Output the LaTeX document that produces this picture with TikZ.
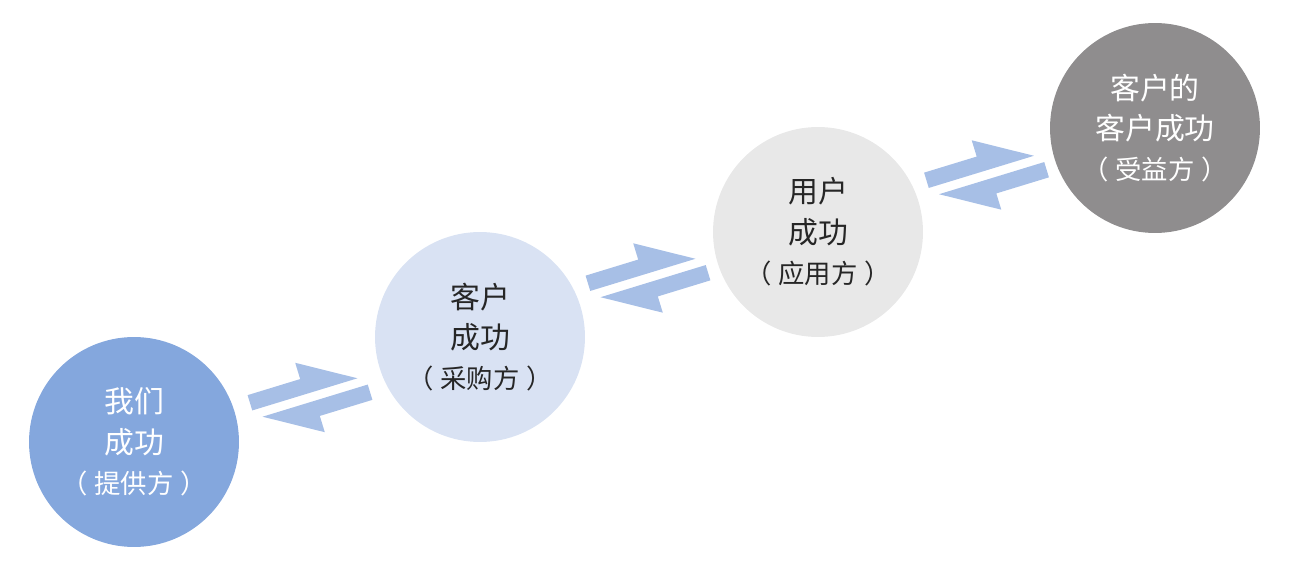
\documentclass[tikz,border=0pt]{standalone}
\usepackage{fontspec}
\setmainfont{Noto Sans CJK SC}
\usepackage{tikz}
\usetikzlibrary{calc}
\definecolor{Provider}{HTML}{84A7DD}
\definecolor{Buyer}{HTML}{D9E2F3}
\definecolor{User}{HTML}{E8E8E8}
\definecolor{Beneficiary}{HTML}{8F8D8E}
\definecolor{Flow}{HTML}{A7BFE6}
\definecolor{Ink}{HTML}{262626}
\newcommand{\rolename}[1]{{\fontsize{15pt}{23.3pt}\selectfont（\hspace{4pt}#1\hspace{4pt}）}}

\begin{document}
\begin{tikzpicture}[
  x=0.02cm, y=0.02cm,
  party/.style={circle, minimum size=4.2cm, inner sep=0pt, align=center, font=\fontsize{17pt}{23pt}\selectfont},
  exchange/.pic={
    \fill[Flow] (-59,4.5) -- (51,4.5) -- (-4,37.5) -- (-4,20.5) -- (-59,20.5) -- cycle;
    \fill[Flow] (59,-4.5) -- (-51,-4.5) -- (4,-37.5) -- (4,-20.5) -- (59,-20.5) -- cycle;
  }
]
\useasboundingbox (0,0) rectangle (1294,568);

\node[party, fill=Provider, text=white] (c1) at (134,126) {我们\\成功\\\rolename{提供方}};
\node[party, fill=Buyer, text=Ink] (c2) at (480,231) {客户\\成功\\\rolename{采购方}};
\node[party, fill=User, text=Ink] (c3) at (818,336) {用户\\成功\\\rolename{应用方}};
\node[party, fill=Beneficiary, text=white] (c4) at (1155,440) {客户的\\客户成功\\\rolename{受益方}};

\pic[rotate=17] at ($(c1)!0.5!(c2)+(3,-8)$) {exchange};
\pic[rotate=17] at ($(c2)!0.5!(c3)+(-1,6.5)$) {exchange};
\pic[rotate=17] at ($(c3)!0.5!(c4)+(0,5)$) {exchange};
\end{tikzpicture}
\end{document}
